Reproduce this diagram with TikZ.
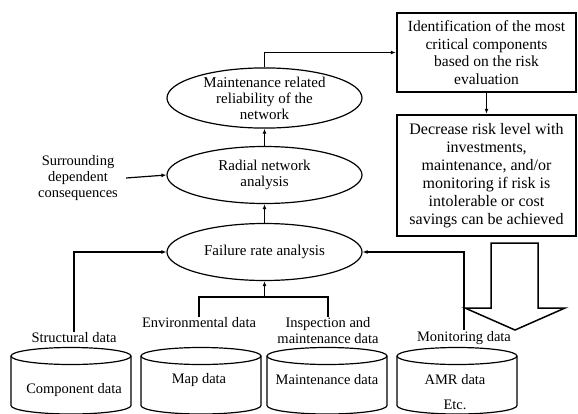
\documentclass[tikz,border=0pt]{standalone}
\usepackage{fontspec}
\setmainfont{Liberation Serif}
\usetikzlibrary{arrows.meta,shapes.geometric}

\begin{document}
\begin{tikzpicture}[
    x=1pt, y=1pt,
    >={Latex[length=5pt,width=4pt]},
    stage/.style={
        ellipse,
        draw,
        line width=1.2pt,
        minimum width=195pt,
        minimum height=57pt,
        inner sep=0pt,
        align=center,
        font=\fontsize{15}{16}\selectfont
    },
    result/.style={
        draw,
        line width=2.5pt,
        minimum width=179pt,
        inner sep=0pt,
        align=center
    },
    source/.style={
        align=center,
        inner sep=1pt,
        font=\fontsize{14.5}{16}\selectfont
    },
    link/.style={
        ->,
        line width=1.2pt
    },
    drum/.style={
        line width=1.2pt
    }
    ]
    \useasboundingbox (0,0) rectangle (578,-413);

    % analysis chain
    \node[stage] (MRR) at (264.5,-98) {Maintenance related\\reliability of the\\network};
    \node[stage] (RNA) at (264.5,-175) {Radial network\\analysis};
    \node[stage] (FRA) at (264.5,-252) {Failure rate analysis};

    % results
    \node[result, minimum height=79pt, font=\fontsize{15.5}{17.7}\selectfont] (IDENT) at (486.5,-52.5)
        {Identification of the most\\critical components\\based on the risk\\evaluation};
    \node[result, minimum height=121pt, font=\fontsize{16}{18}\selectfont] (DECR) at (486.5,-175.5)
        {Decrease risk level with\\investments,\\maintenance, and/or\\monitoring if risk is\\intolerable or cost\\savings can be achieved};

    \draw[link] (MRR.north) |- (IDENT.west);
    \draw[link] (IDENT.south) -- (DECR.north);
    \draw[link] (RNA.north) -- (MRR.south);
    \draw[link] (FRA.north) -- (RNA.south);

    % surrounding consequences
    \node[source, inner sep=3pt] (SUR) at (78,-178) {Surrounding\\dependent\\consequences};
    \draw[link] ([xshift=5pt]SUR.east) -- (RNA.west);

    % data labels
    \node[source] (STRUCT) at (74,-338) {Structural data};
    \node[source] (ENV) at (199,-323) {Environmental data};
    \node[source] (INSP) at (328,-331) {Inspection and\\maintenance data};
    \node[source] (MON) at (464,-338) {Monitoring data};

    \draw[link] (STRUCT.north) |- (FRA.west);
    \draw[link] (MON.north) |- (FRA.east);
    \coordinate (JOIN) at (264.5,-297);
    \draw[line width=1.2pt] (ENV.north) |- (JOIN) -| (INSP.north);
    \draw[link] (JOIN) -- (FRA.south);

    % hollow arrow
    \draw[line width=1.5pt] (491,-243) -- (538,-243) -- (538,-308) -- (565,-308)
        -- (515,-330) -- (465,-308) -- (491,-308) -- cycle;

    % databases
    \begin{scope}
    \clip (0,0) rectangle (578,-413);
    \foreach \xc in {71,201,327,457}{
        \draw[drum] (\xc,-356) ellipse (60 and 8.5);
        \draw[drum] (\xc-60,-356) -- (\xc-60,-405.5)
            arc[start angle=180, end angle=360, x radius=60, y radius=8.5]
            -- (\xc+60,-356);
    }
    \end{scope}
    \node[source] (COMP) at (74,-390) {Component data};
    \node[source] (MAP) at (199,-380) {Map data};
    \node[source] (MAINT) at (327,-380) {Maintenance data};
    \node[source] (AMR) at (455,-380) {AMR data};
    \node[source] (ETC) at (455,-405) {Etc.};
\end{tikzpicture}
\end{document}
